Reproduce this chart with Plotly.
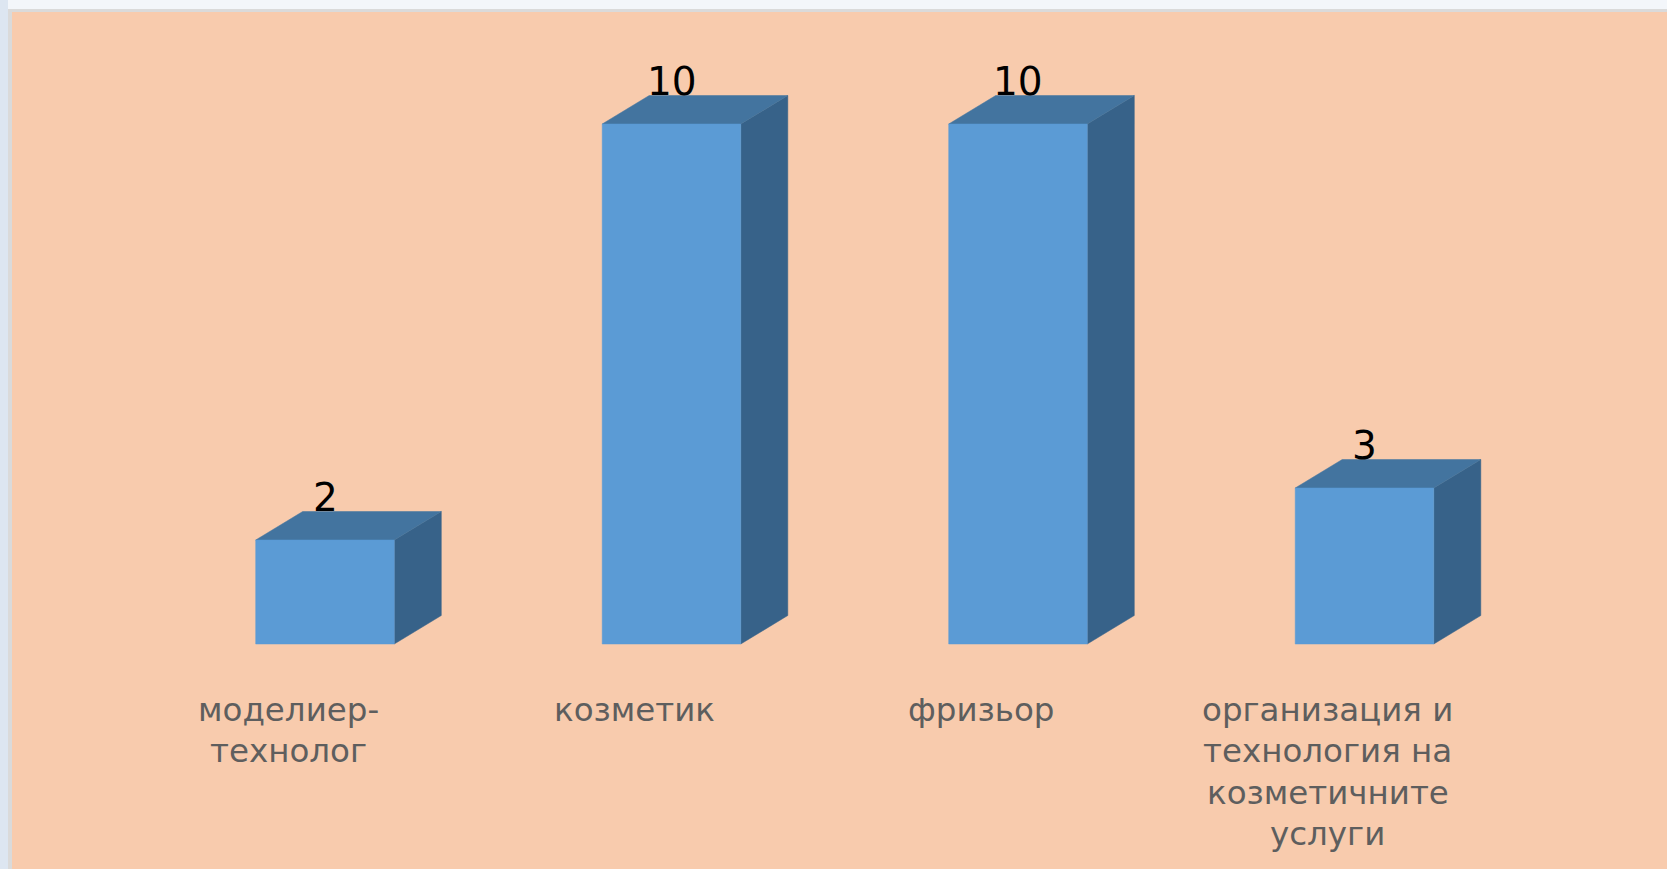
import plotly.graph_objects as go

# ---- data ----
categories = [
    "моделиер-<br>технолог",
    "козметик",
    "фризьор",
    "организация и<br>технология на<br>козметичните<br>услуги",
]
values = [2, 10, 10, 3]

# ---- layout constants (pixels) ----
W, H = 1667, 869
X0_PX = 325.0      # pixel x of first category centre
X_STEP = 346.5     # pixels per category
Y0_PX = 644.0      # pixel y of value 0 (front base)
Y_UNIT = 52.0      # pixels per value unit
BAR_HALF = 0.2     # half bar width in category units
DEPTH_X = 47.0 / X_STEP
DEPTH_Y = 28.5 / Y_UNIT
LABEL_TOP_PX = 689.0
LINE_PX = 41.3

FRONT = "#5B9BD5"
TOP = "#43749F"
SIDE = "#376289"
BG = "#F8CBAD"

x_range = [-X0_PX / X_STEP, (W - X0_PX) / X_STEP]
y_range = [-(H - Y0_PX) / Y_UNIT, Y0_PX / Y_UNIT]

fig = go.Figure()


def poly(xs, ys, color):
    fig.add_trace(go.Scatter(
        x=xs + [xs[0]], y=ys + [ys[0]], mode="lines", fill="toself",
        fillcolor=color, line=dict(color=color, width=0.5),
        hoverinfo="skip", showlegend=False))


for i, v in enumerate(values):
    xl, xr = i - BAR_HALF, i + BAR_HALF
    # side face
    poly([xr, xr + DEPTH_X, xr + DEPTH_X, xr],
         [0, DEPTH_Y, v + DEPTH_Y, v], SIDE)
    # top face
    poly([xl, xl + DEPTH_X, xr + DEPTH_X, xr],
         [v, v + DEPTH_Y, v + DEPTH_Y, v], TOP)
    # front face
    poly([xl, xr, xr, xl], [0, 0, v, v], FRONT)

annotations = []
for i, v in enumerate(values):
    annotations.append(dict(
        x=i, y=v + DEPTH_Y, xref="x", yref="y", text=str(v),
        showarrow=False, xanchor="center", yanchor="bottom", yshift=-10,
        font=dict(family="DejaVu Sans", size=39, color="#000000")))
for i, c in enumerate(categories):
    for k, line in enumerate(c.split("<br>")):
        annotations.append(dict(
            x=i - 37.0 / X_STEP,
            y=-(LABEL_TOP_PX + k * LINE_PX - Y0_PX) / Y_UNIT,
            xref="x", yref="y", text=line, showarrow=False,
            xanchor="center", yanchor="top", align="center",
            font=dict(family="DejaVu Sans", size=32.5, color="#5E5E5E")))

shapes = [
    # left outer band
    dict(type="rect", xref="paper", yref="paper", x0=0, x1=8 / W, y0=0, y1=1,
         fillcolor="#DDE6F1", line=dict(width=0), layer="below"),
    # grey frame
    dict(type="rect", xref="paper", yref="paper", x0=8 / W, x1=1.01,
         y0=-0.01, y1=(H - 9) / H, fillcolor="#DADADA", line=dict(width=0),
         layer="below"),
    # peach plot background
    dict(type="rect", xref="paper", yref="paper", x0=12 / W, x1=1.01,
         y0=-0.01, y1=(H - 12) / H, fillcolor=BG, line=dict(width=0),
         layer="below"),
]

fig.update_layout(
    width=W, height=H, margin=dict(l=0, r=0, t=0, b=0, pad=0),
    paper_bgcolor="#F3F6FA", plot_bgcolor="rgba(0,0,0,0)",
    xaxis=dict(range=x_range, visible=False, fixedrange=True),
    yaxis=dict(range=y_range, visible=False, fixedrange=True),
    showlegend=False, annotations=annotations, shapes=shapes,
)

fig.write_html("out.html", config={"displayModeBar": False})
